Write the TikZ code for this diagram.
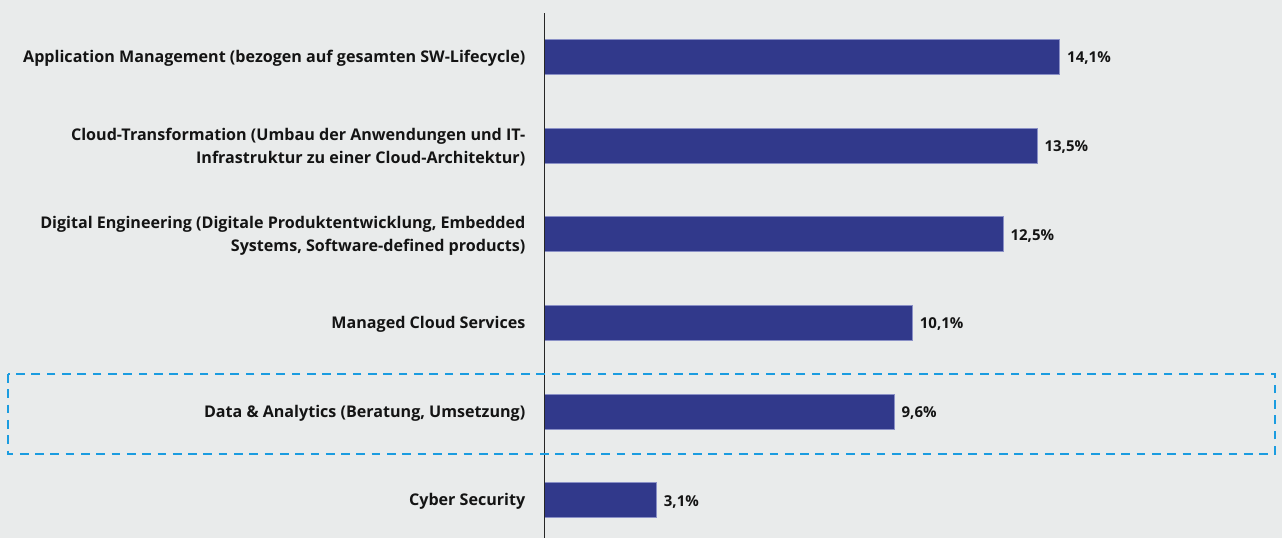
\documentclass[tikz,border=0pt]{standalone}
\usepackage{fontspec}
\setmainfont{Open Sans}
\definecolor{bgc}{HTML}{E9EBEB}
\definecolor{barc}{HTML}{31398B}
\definecolor{barline}{HTML}{8A90C6}
\definecolor{dashc}{HTML}{1B9CE0}
\definecolor{txtc}{HTML}{141414}
\tikzset{
  barbox/.style={draw=barline, line width=0.7pt, fill=barc, minimum height=35pt, inner sep=0pt, anchor=west},
  catlabel/.style={anchor=east, align=right, inner sep=0pt, yshift=-1.5pt, text=txtc, font=\bfseries\fontsize{16.1}{22.7}\selectfont},
  vallabel/.style={anchor=west, inner sep=0pt, xshift=7pt, yshift=-1.5pt, text=txtc, font=\bfseries\fontsize{15}{18}\selectfont},
  hilite/.style={draw=dashc, line width=2pt, dash pattern=on 8.7pt off 6.6pt}
}
\begin{document}
\begin{tikzpicture}[x=1pt,y=-1pt]
\fill[bgc] (0,0) rectangle (1282,538);
\useasboundingbox (0,0) rectangle (1282,538);
% axis
\coordinate (axtop) at (544,13);
\coordinate (axbot) at (544,538);
% bars
\node[barbox, minimum width=515.3pt] (b1) at (544,56.8) {};
\node[barbox, minimum width=492.7pt] (b2) at (544,145.5) {};
\node[barbox, minimum width=458.7pt] (b3) at (544,234.2) {};
\node[barbox, minimum width=368pt] (b4) at (544,322.9) {};
\node[barbox, minimum width=349.7pt] (b5) at (544,411.6) {};
\node[barbox, minimum width=112pt] (b6) at (544,500.3) {};
\draw[line width=1pt, black!85] (axtop) -- (axbot);
% values
\node[vallabel] (v1) at (b1.east) {14,1\%};
\node[vallabel] (v2) at (b2.east) {13,5\%};
\node[vallabel] (v3) at (b3.east) {12,5\%};
\node[vallabel] (v4) at (b4.east) {10,1\%};
\node[vallabel] (v5) at (b5.east) {9,6\%};
\node[vallabel] (v6) at (b6.east) {3,1\%};
% categories
\node[catlabel] (c1) at (525.5,56.8) {Application Management (bezogen auf gesamten SW-Lifecycle)};
\node[catlabel] (c2) at (525.5,145.5) {Cloud-Transformation (Umbau der Anwendungen und IT-\\Infrastruktur zu einer Cloud-Architektur)};
\node[catlabel] (c3) at (525.5,234.2) {Digital Engineering (Digitale Produktentwicklung, Embedded\\Systems, Software-defined products)};
\node[catlabel] (c4) at (525.5,322.9) {Managed Cloud Services};
\node[catlabel] (c5) at (525.5,411.6) {Data \& Analytics (Beratung, Umsetzung)};
\node[catlabel] (c6) at (525.5,500.3) {Cyber Security};
% highlight box
\coordinate (hl1) at (7.7,374);
\coordinate (hl2) at (1275.3,453.7);
\draw[hilite] (hl1) rectangle (hl2);
\end{tikzpicture}
\end{document}
